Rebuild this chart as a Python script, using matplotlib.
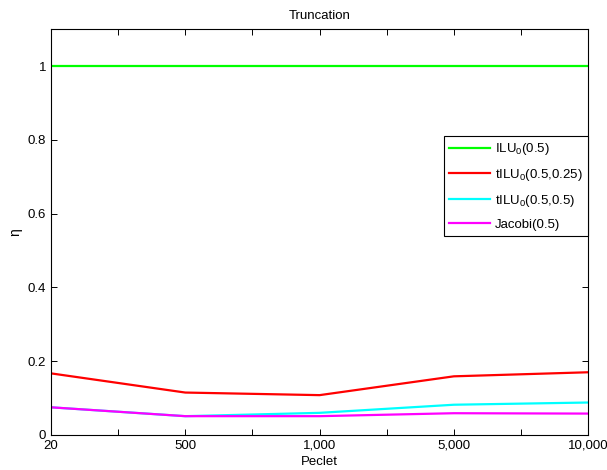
import numpy as np
import matplotlib
matplotlib.use('Agg')
import matplotlib.pyplot as plt

plt.rcParams['font.family'] = ['Liberation Sans', 'DejaVu Sans']
plt.rcParams['mathtext.default'] = 'regular'

peclet = ['20', '500', '1,000', '5,000', '10,000']
ilu = [1.0, 1.0, 1.0, 1.0, 1.0]
tilu_025 = [0.167, 0.115, 0.108, 0.159, 0.170]
tilu_05 = [0.075, 0.051, 0.060, 0.082, 0.088]
jacobi = [0.075, 0.051, 0.051, 0.059, 0.058]

x = np.arange(len(peclet))

fig = plt.figure(figsize=(6.07, 4.70), dpi=100)
ax = fig.add_axes([0.084, 0.0745, 0.885, 0.8635])

ax.plot(x, ilu, color=(0, 1, 0), lw=1.6, label='ILU$_0$(0.5)')
ax.plot(x, tilu_025, color=(1, 0, 0), lw=1.6, label='tILU$_0$(0.5,0.25)')
ax.plot(x, tilu_05, color=(0, 1, 1), lw=1.6, label='tILU$_0$(0.5,0.5)')
ax.plot(x, jacobi, color=(1, 0, 1), lw=1.6, label='Jacobi(0.5)')

ax.set_xlim(0, len(peclet) - 1)
ax.set_ylim(0, 1.1)
ax.set_xticks(x)
ax.set_xticklabels(peclet)
ax.set_xticks(x[:-1] + 0.5, minor=True)
ax.set_yticks([0, 0.2, 0.4, 0.6, 0.8, 1])
ax.set_yticklabels(['0', '0.2', '0.4', '0.6', '0.8', '1'])
ax.tick_params(which='both', direction='in', top=True, right=True, labelsize=9.5, length=4, width=0.7)
for s in ax.spines.values():
    s.set_linewidth(0.8)

ax.set_title('Truncation', fontsize=9.5, pad=7)
ax.set_xlabel('Peclet', fontsize=9.5, labelpad=3)
ax.set_ylabel('η', fontsize=10, labelpad=4)

leg = ax.legend(loc='upper right', bbox_to_anchor=(1.0, 0.737), fontsize=9.5, fancybox=False,
                edgecolor='black', framealpha=1, handlelength=3.1, handletextpad=0.4,
                labelspacing=0.75, borderaxespad=0)
leg.get_frame().set_linewidth(0.8)

fig.savefig('out.png', dpi=100)
